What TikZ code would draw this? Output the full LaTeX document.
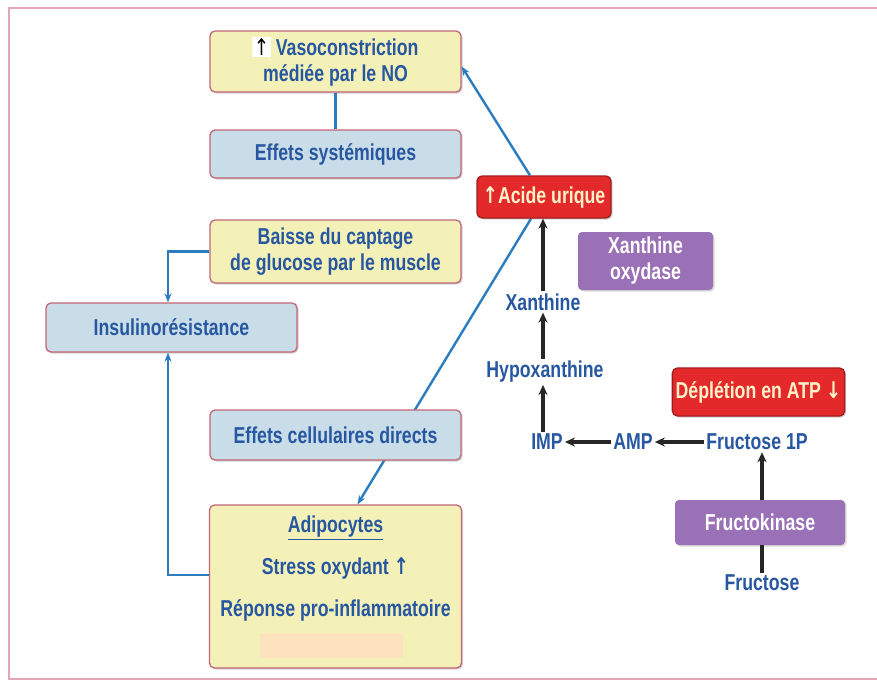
\documentclass[tikz,border=0pt]{standalone}
\usepackage{fontspec}
\setmainfont{Liberation Sans}[FakeStretch=0.77]
\newfontfamily\arr{DejaVu Sans}[FakeStretch=0.8]
\usetikzlibrary{shadows,arrows.meta}
\definecolor{txtblue}{HTML}{2757A0}
\definecolor{yel}{HTML}{F4F1B8}
\definecolor{lblue}{HTML}{C9DDE9}
\definecolor{bord}{HTML}{C26676}
\definecolor{redb}{HTML}{E4292A}
\definecolor{redtxt}{HTML}{FFF1C8}
\definecolor{purp}{HTML}{9A71B6}
\definecolor{conn}{HTML}{2B7DC0}
\definecolor{frame}{HTML}{E3A6B6}
\pgfdeclarelayer{bg}
\pgfsetlayers{bg,main}
\tikzset{
  tfont/.style={font=\bfseries\fontsize{23}{26}\selectfont},
  box/.style={draw=bord, line width=1.3pt, rounded corners=5pt, align=center,
    tfont, text=txtblue,
    drop shadow={opacity=0.35, shadow xshift=1.5pt, shadow yshift=-1.5pt}},
  yelbox/.style={box, fill=yel},
  bluebox/.style={box, fill=lblue},
  redbox/.style={box, fill=redb, text=redtxt, draw=redb!70!black},
  purpbox/.style={draw=none, fill=purp, rounded corners=4pt, align=center, text=white,
    tfont,
    drop shadow={opacity=0.3, shadow xshift=1.5pt, shadow yshift=-1.5pt}},
  metab/.style={tfont, text=txtblue, inner sep=2pt},
  bconn/.style={draw=conn, line width=2.4pt, -{Stealth[length=9pt,width=7pt]}},
  kconn/.style={draw=black!85, line width=3.2pt, -{Stealth[length=10pt,width=9pt]}},
}
\begin{document}
\begin{tikzpicture}[x=1pt,y=-1pt]
\useasboundingbox (0,0) rectangle (877,688);
\begin{pgfonlayer}{bg}
\fill[white] (0,0) rectangle (877,688);
\end{pgfonlayer}
\draw[frame, line width=1.3pt] (9,8) rectangle (890,679);

% left column
\node[yelbox, minimum width=251, minimum height=61] (vaso) at (335.5,61.5)
  {{\setlength{\fboxsep}{1.5pt}\colorbox{white}{\arr\color{black}\mdseries ↑}} Vasoconstriction\\médiée par le NO};
\node[bluebox, minimum width=251, minimum height=48] (sys) at (335.5,154) {Effets systémiques};
\node[yelbox, minimum width=251, minimum height=63] (baisse) at (335.5,251.5) {Baisse du captage\\de glucose par le muscle};
\node[bluebox, minimum width=251, minimum height=49] (insul) at (171.5,327.5) {Insulinorésistance};
\node[bluebox, minimum width=251, minimum height=50] (cell) at (335.5,435) {Effets cellulaires directs};
\node[yelbox, minimum width=252, minimum height=163] (adipo) at (335.5,586.5) {};
\node[metab] (adt) at (335.5,528) {\underline{Adipocytes}};
\node[metab] (stress) at (335.5,568) {Stress oxydant {\arr ↑}};
\node[metab] (repo) at (335.5,610) {Réponse pro-inflammatoire};
\node[fill=orange!25, opacity=0.8, minimum width=143, minimum height=25, inner sep=0] (smudge) at (331.5,645.5) {};

% right part
\node[redbox, minimum width=134, minimum height=42] (acide) at (544,197) {{\arr ↑}Acide urique};
\node[purpbox, minimum width=135, minimum height=58] (xo) at (645.5,261) {Xanthine\\oxydase};
\node[metab] (xan) at (543,302) {Xanthine};
\node[metab] (hypo) at (545,372) {Hypoxanthine};
\node[redbox, minimum width=171, minimum height=48] (atp) at (758.5,392) {Déplétion en ATP {\arr ↓}};
\node[metab] (imp) at (547,442) {IMP};
\node[metab] (amp) at (633,442) {AMP};
\node[metab] (f1p) at (757,442) {Fructose 1P};
\node[purpbox, minimum width=170, minimum height=45] (fk) at (760,522.5) {Fructokinase};
\node[metab] (fru) at (762,583) {Fructose};

% blue connectors
\draw[bconn] ([xshift=-14pt]acide.north) -- ([yshift=-5pt]vaso.east);
\draw[conn, line width=3pt] (vaso.south) -- (sys.north);
\draw[bconn] (baisse.west) -| ([xshift=-3.5pt]insul.north);
\draw[bconn] ([yshift=11.5pt]adipo.west) -| ([xshift=-3.5pt]insul.south);
\begin{pgfonlayer}{bg}
\draw[bconn] ([xshift=-13pt]acide.south) -- ([xshift=22pt]adipo.north);
\end{pgfonlayer}

% black pathway
\draw[kconn] (xan.north) -- ([xshift=-1pt]acide.south);
\draw[kconn] ([xshift=-2pt]hypo.north) -- (xan.south);
\draw[kconn] ([xshift=-4pt]imp.north) -- ([xshift=-2pt]hypo.south);
\draw[kconn] (amp.west) -- (imp.east);
\draw[kconn] (f1p.west) -- (amp.east);
\draw[kconn] ([xshift=2pt]fk.north) -- ([xshift=5pt]f1p.south);
\draw[black!85, line width=3.2pt] (fru.north) -- ([xshift=2pt]fk.south);
\end{tikzpicture}
\end{document}
